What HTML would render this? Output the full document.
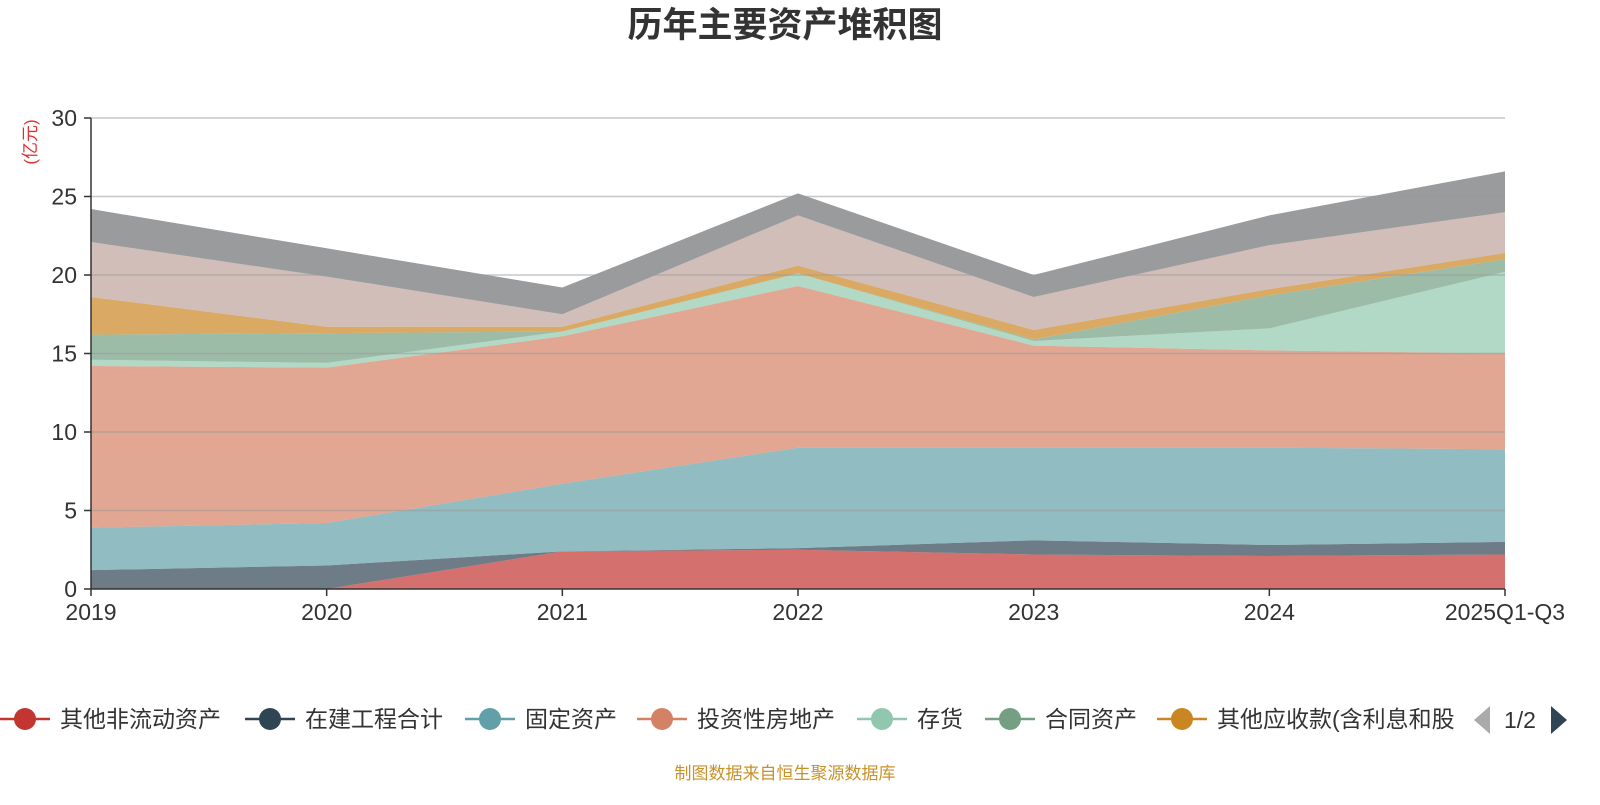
<!DOCTYPE html>
<html><head><meta charset="utf-8">
<style>
html,body{margin:0;padding:0;background:#fff;}
body{width:1600px;height:800px;overflow:hidden;font-family:"Liberation Sans","Noto Sans CJK SC",sans-serif;}
</style></head>
<body>
<svg id="chart" width="1600" height="800" xmlns="http://www.w3.org/2000/svg" font-family="Liberation Sans, Noto Sans CJK SC, sans-serif">
<defs><clipPath id="legclip"><rect x="0" y="690" width="1455" height="60"/></clipPath></defs>
<text x="785" y="37" text-anchor="middle" font-size="35" font-weight="bold" fill="#333">历年主要资产堆积图</text>
<text transform="translate(36,142) rotate(-90)" text-anchor="middle" font-size="17" fill="#e03030">(亿元)</text>
<g id="areas"></g>
<g id="grid"></g>
<g id="axes"></g>
<g id="legend"></g>
<text x="785" y="779" text-anchor="middle" font-size="17" fill="#c8922a">制图数据来自恒生聚源数据库</text>
</svg>
<script>
const categories=["2019","2020","2021","2022","2023","2024","2025Q1-Q3"];
const seriesNames=["其他非流动资产","在建工程合计","固定资产","投资性房地产","存货","合同资产","其他应收款(含利息和股利)","series-8","series-9"];
const s1=[0,0,2.4,2.5,2.2,2.1,2.2];
const s2=[1.2,1.5,0,0.1,0.9,0.7,0.8];
const s3=[2.7,2.7,4.3,6.4,5.9,6.2,5.9];
const s4=[10.3,9.9,9.4,10.3,6.5,6.2,6.1];
const s5=[0.4,0.3,0.3,0.8,0.3,1.4,5.2];
const s6=[1.6,1.9,0,0,0.1,2.1,0.8];
const s7=[2.4,0.4,0.3,0.5,0.6,0.4,0.4];
const s8=[3.5,3.2,0.8,3.2,2.1,2.8,2.6];
const s9=[2.1,1.8,1.7,1.4,1.4,1.9,2.6];
const yTicks=[0,5,10,15,20,25,30];
const colors=["#c23531","#2f4554","#61a0a8","#d48265","#91c7ae","#749f83","#ca8622","#bda29a","#6e7074"];
const allSeries=[s1,s2,s3,s4,s5,s6,s7,s8,s9];
const NS="http://www.w3.org/2000/svg";
const X0=91,X1=1505,Y0=589,Y1=118;
function xs(i){return X0+(X1-X0)*i/(categories.length-1);}
function ys(v){return Y0-(Y0-Y1)*v/30;}
function mk(t,a,p){const e=document.createElementNS(NS,t);for(const k in a)e.setAttribute(k,a[k]);p.appendChild(e);return e;}
const areas=document.getElementById('areas');
let base=categories.map(()=>0);
allSeries.forEach((s,si)=>{
  const top=base.map((b,i)=>b+s[i]);
  let d="M"+categories.map((c,i)=>xs(i)+","+ys(top[i])).join("L");
  for(let i=categories.length-1;i>=0;i--)d+="L"+xs(i)+","+ys(base[i]);
  d+="Z";
  const p=mk('path',{d:d,fill:colors[si],'fill-opacity':0.7,stroke:'none'},areas);
  
  
  base=top;
});
const grid=document.getElementById('grid');
const axes=document.getElementById('axes');
yTicks.forEach(v=>{
  if(v>0){const l=mk('line',{x1:X0,x2:X1,y1:ys(v),y2:ys(v),stroke:'#999','stroke-opacity':0.55,'stroke-width':1.5},grid);
  }
  const tk=mk('line',{x1:X0-7,x2:X0,y1:ys(v),y2:ys(v),stroke:'#333','stroke-width':1.5},axes);
  
  const t=mk('text',{x:X0-14,y:ys(v)+8,'text-anchor':'end','font-size':23,fill:'#333'},axes);
  t.textContent=v;
});
const ya=mk('line',{x1:X0,x2:X0,y1:Y1,y2:Y0,stroke:'#333','stroke-width':1.5},axes);

const xa=mk('line',{x1:X0,x2:X1,y1:Y0,y2:Y0,stroke:'#333','stroke-width':1.5},axes);

categories.forEach((c,i)=>{
  const tk=mk('line',{x1:xs(i),x2:xs(i),y1:Y0,y2:Y0+7,stroke:'#333','stroke-width':1.5},axes);
  
  const t=mk('text',{x:xs(i),y:Y0+31,'text-anchor':'middle','font-size':23,fill:'#333'},axes);
  t.textContent=c;
});
const lg=document.getElementById('legend');
const legItems=mk('g',{'clip-path':'url(#legclip)'},lg);
const legX=[25,270,490,662,882,1010,1182];
const legLabels=["其他非流动资产","在建工程合计","固定资产","投资性房地产","存货","合同资产","其他应收款(含利息和股"];
legX.forEach((x,i)=>{
  const g=mk('g',{},legItems);
  
  
  mk('line',{x1:x-25,x2:x+25,y1:719,y2:719,stroke:colors[i],'stroke-width':2.5},g);
  mk('circle',{cx:x,cy:719,r:11,fill:colors[i]},g);
  const t=mk('text',{x:x+35,y:727,'font-size':23,fill:'#333'},g);t.textContent=legLabels[i];
});
const prev=mk('path',{d:'M1490,706 L1490,734 L1474,720 Z',fill:'#aaa'},lg);

const pg=mk('text',{x:1520,y:728,'text-anchor':'middle','font-size':23,fill:'#333'},lg);pg.textContent="1/2";

const next=mk('path',{d:'M1551,706 L1551,734 L1567,720 Z',fill:'#2f4554'},lg);

</script>
</body></html>
